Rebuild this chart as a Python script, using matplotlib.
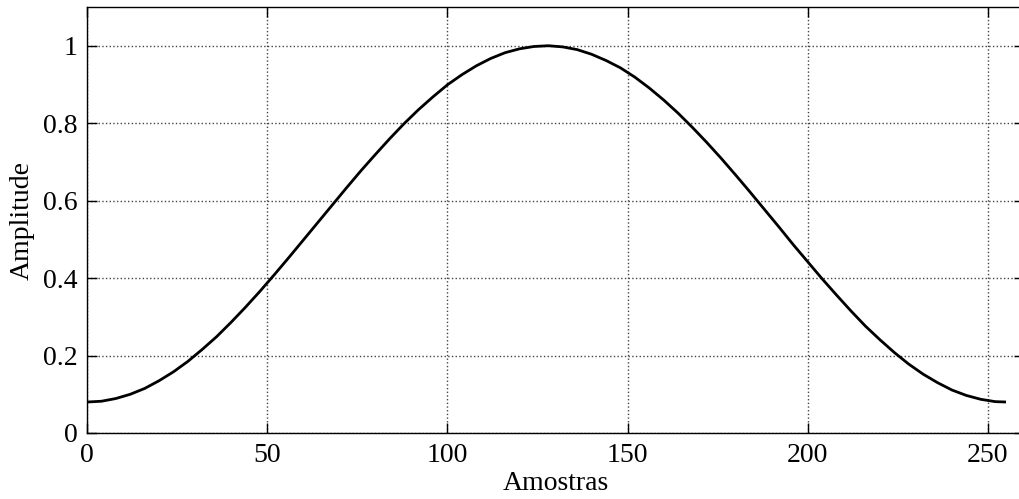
import matplotlib
matplotlib.use("Agg")
import matplotlib.pyplot as plt

# amostras e amplitude (janela suave, 256 amostras)
amostras = [0, 4, 8, 12, 16, 20, 24, 28, 32, 36, 40, 44, 48, 52, 56, 60, 64,
            68, 72, 76, 80, 84, 88, 92, 96, 100, 104, 108, 112, 116, 120, 124,
            128, 132, 136, 140, 144, 148, 152, 156, 160, 164, 168, 172, 176,
            180, 184, 188, 192, 196, 200, 204, 208, 212, 216, 220, 224, 228,
            232, 236, 240, 244, 248, 252, 255]
amplitude = [0.080, 0.082, 0.089, 0.100, 0.115, 0.135, 0.158, 0.185, 0.216,
             0.249, 0.286, 0.325, 0.366, 0.409, 0.453, 0.498, 0.543, 0.588,
             0.633, 0.677, 0.719, 0.760, 0.799, 0.835, 0.868, 0.899, 0.925,
             0.948, 0.967, 0.982, 0.992, 0.998, 1.000, 0.997, 0.990, 0.978,
             0.962, 0.943, 0.919, 0.891, 0.860, 0.826, 0.789, 0.750, 0.709,
             0.666, 0.622, 0.577, 0.532, 0.486, 0.442, 0.398, 0.356, 0.315,
             0.276, 0.241, 0.208, 0.178, 0.152, 0.130, 0.111, 0.097, 0.087,
             0.081, 0.080]

xticks = [0, 50, 100, 150, 200, 250]
yticks = [0, 0.2, 0.4, 0.6, 0.8, 1]
ytick_labels = ["0", "0.2", "0.4", "0.6", "0.8", "1"]

plt.rcParams["font.family"] = ["Liberation Serif", "DejaVu Serif"]

fig = plt.figure(figsize=(10.2, 4.99), dpi=100)
# os eixos passam um pouco da borda direita da figura (como no original)
ax = fig.add_axes([87 / 1020, 66 / 499, 937 / 1020, 426 / 499])

ax.plot(amostras, amplitude, color="black", linewidth=2.0,
        solid_joinstyle="round", solid_capstyle="butt")

ax.set_xlim(0, 260)
ax.set_ylim(0, 1.1)
ax.set_xticks(xticks)
ax.set_yticks(yticks)
ax.set_yticklabels(ytick_labels)
ax.tick_params(direction="in", length=7, width=1, labelsize=20, pad=7,
               top=True, right=True, colors="black")
ax.grid(True, linestyle=":", color="#444444", linewidth=1)
for s in ax.spines.values():
    s.set_linewidth(1)
ax.spines["right"].set_visible(False)

ax.set_xlabel("Amostras", fontsize=20, labelpad=2)
ax.set_ylabel("Amplitude", fontsize=20, labelpad=6)

fig.savefig("out.png", dpi=100)
